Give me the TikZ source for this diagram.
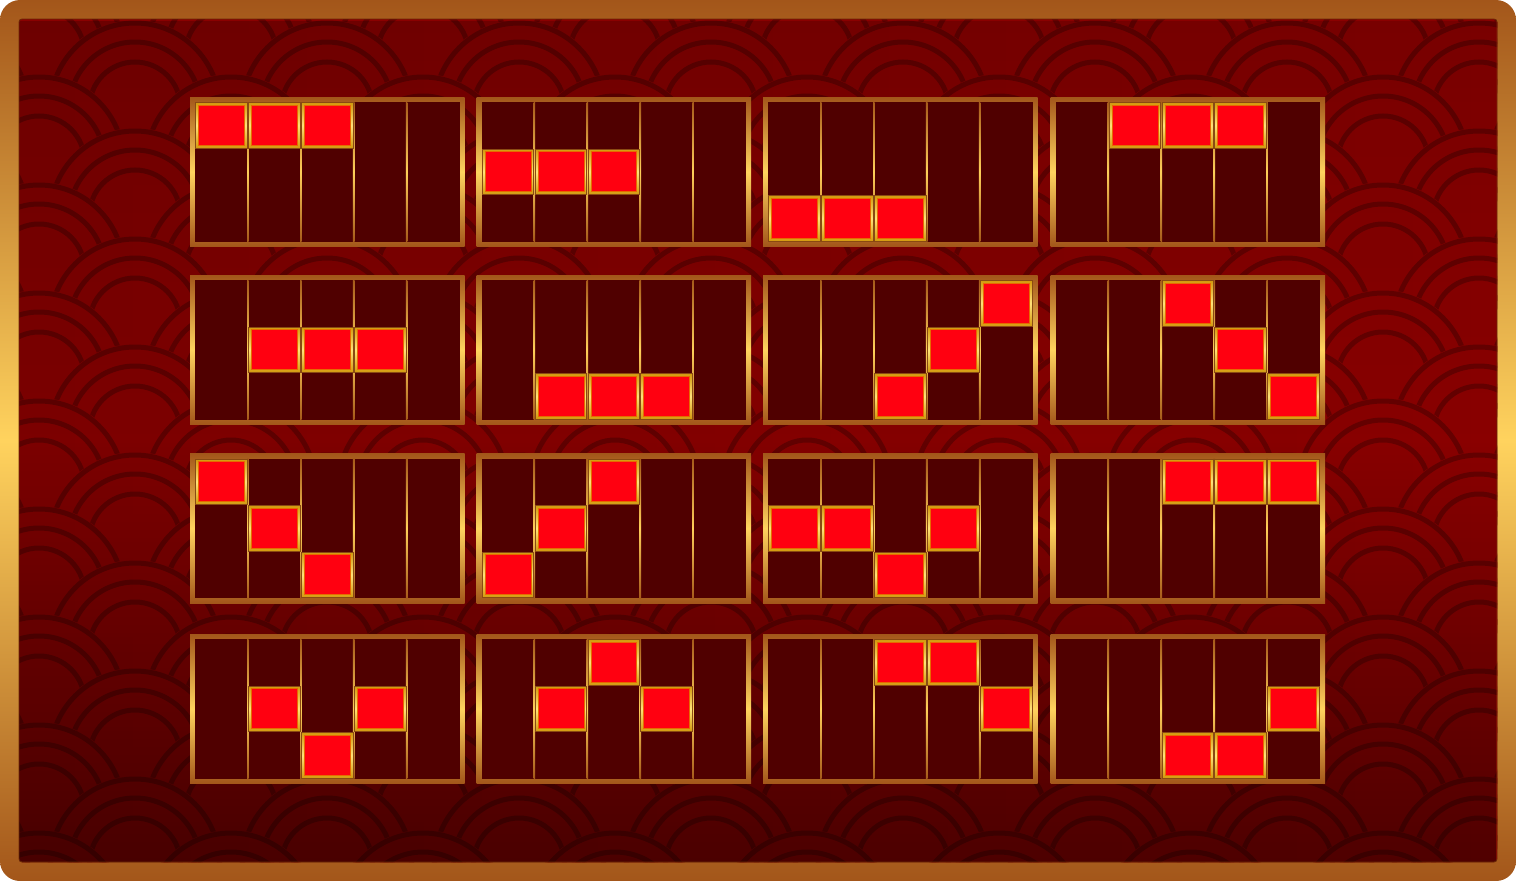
\documentclass[tikz,border=0pt]{standalone}
\usetikzlibrary{fadings}
\definecolor{frameBrown}{HTML}{A3561A}
\definecolor{frameGold}{HTML}{FFD35E}
\definecolor{bgBase}{HTML}{8A0000}
\definecolor{bgRing}{HTML}{660000}
\definecolor{panelFill}{HTML}{500000}
\definecolor{lineDark}{HTML}{A65A1A}
\definecolor{lineLight}{HTML}{FFCF5A}
\definecolor{hlDark}{HTML}{D39A0E}
\definecolor{hlLight}{HTML}{FFE27A}
\definecolor{hlEdge}{HTML}{E86A00}
\definecolor{hlOut}{HTML}{8A4A12}
\definecolor{cellRed}{HTML}{FF0010}
\definecolor{innerEdge}{HTML}{6A2A08}
\tikzfading[name=vshade, top color=transparent!88, bottom color=transparent!58, middle color=transparent!100]
\tikzfading[name=hshade, left color=transparent!90, right color=transparent!100]
\tikzset{
  goldbar/.style={top color=frameBrown, bottom color=frameBrown, middle color=frameGold},
  divbar/.style={top color=lineDark, bottom color=lineDark, middle color=lineLight},
  hlgold/.style={top color=hlDark, bottom color=hlDark, middle color=hlLight, draw=hlOut, line width=0.7pt},
  hlred/.style={fill=cellRed, draw=hlEdge, line width=0.7pt},
  ringline/.style={draw=bgRing, line width=5pt}
}
\newcommand{\slotpanel}[3]{%
  \begin{scope}[shift={(#1,#2)}]
    \shade[goldbar] (0,0) rectangle (274.5,149.5);
    \fill[panelFill] (5,5) rectangle (269.5,144.5);
    \foreach \i in {1,...,4}{
      \shade[divbar] ({5+52.9*\i-0.8},5) rectangle ({5+52.9*\i+0.8},144.5);
    }
    \foreach \c/\r in {#3}{
      \shade[hlgold] ({5.6+52.9*(\c-1)},{5.6+46.5*(\r-1)}) rectangle ({4.4+52.9*\c},{4.4+46.5*\r});
      \path[hlred] ({8.6+52.9*(\c-1)},{8.2+46.5*(\r-1)}) rectangle ({1.6+52.9*\c},{1.8+46.5*\r});
    }
  \end{scope}
}
\begin{document}
\begin{tikzpicture}[x=1pt,y=-1pt]
\fill[white] (0,0) rectangle (1516,881);
\useasboundingbox (0,0) rectangle (1516,881);
% outer frame
\shade[goldbar, rounded corners=20pt] (0,0) rectangle (1516,881);
% background with scallop pattern
\begin{scope}
  \clip[rounded corners=3pt] (19,19) rectangle (1497,862);
  \fill[bgBase] (19,19) rectangle (1497,862);
  \foreach \k in {-2,...,15}{
    \pgfmathsetmacro{\cy}{107.5+54*\k}
    \pgfmathsetmacro{\off}{mod(\k+20,2)*96}
    \foreach \m in {-1,...,7}{
      \pgfmathsetmacro{\cx}{135+\off+192*\m}
      \fill[bgBase] (\cx,\cy) circle[radius=87.5pt];
      \path[ringline] (\cx,\cy) circle[radius=84.5pt];
      \path[ringline] (\cx,\cy) circle[radius=65.5pt];
      \path[ringline] (\cx,\cy) circle[radius=45.5pt];
    }
  }
  \fill[black, path fading=vshade] (19,19) rectangle (1497,862);
  \fill[black, path fading=hshade] (19,19) rectangle (1497,862);
\end{scope}
\draw[innerEdge, line width=0.8pt, rounded corners=3pt] (19,19) rectangle (1497,862);
% panels
\slotpanel{190}{97}{1/1,2/1,3/1}
\slotpanel{476.5}{97}{1/2,2/2,3/2}
\slotpanel{763}{97}{1/3,2/3,3/3}
\slotpanel{1050.5}{97}{2/1,3/1,4/1}
\slotpanel{190}{275}{2/2,3/2,4/2}
\slotpanel{476.5}{275}{2/3,3/3,4/3}
\slotpanel{763}{275}{3/3,4/2,5/1}
\slotpanel{1050.5}{275}{3/1,4/2,5/3}
\slotpanel{190}{453.5}{1/1,2/2,3/3}
\slotpanel{476.5}{453.5}{1/3,2/2,3/1}
\slotpanel{763}{453.5}{1/2,2/2,3/3,4/2}
\slotpanel{1050.5}{453.5}{3/1,4/1,5/1}
\slotpanel{190}{634}{2/2,3/3,4/2}
\slotpanel{476.5}{634}{2/2,3/1,4/2}
\slotpanel{763}{634}{3/1,4/1,5/2}
\slotpanel{1050.5}{634}{3/3,4/3,5/2}
\end{tikzpicture}
\end{document}
